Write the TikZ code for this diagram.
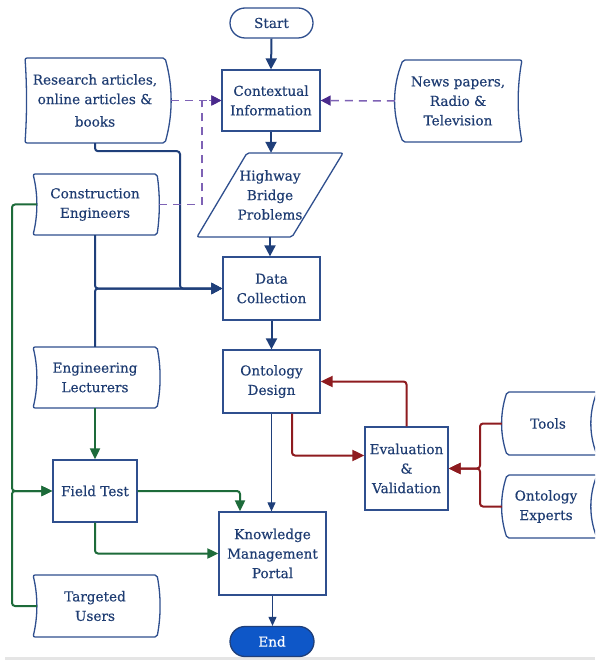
\documentclass[tikz,border=0pt]{standalone}
\usepackage{fontspec}
\setmainfont{DejaVu Serif}[FakeBold=0.35]
\usetikzlibrary{arrows.meta,calc}
\definecolor{navy}{HTML}{1F3F7A}
\definecolor{txt}{HTML}{1E3C72}
\definecolor{brd}{HTML}{2F4F8E}
\definecolor{pur}{HTML}{7E62B5}
\definecolor{purd}{HTML}{4A2A8C}
\definecolor{grn}{HTML}{1D6B3A}
\definecolor{dred}{HTML}{8E1B1F}
\definecolor{endb}{HTML}{0E57C8}
\tikzset{
  lbl/.style={font=\fontsize{13.6}{19.5}\selectfont, text=txt, align=center},
  boxn/.style={lbl, draw=brd, line width=1.3pt, inner sep=0pt},
  shp/.style={draw=brd, line width=1.3pt, rounded corners=2pt},
  blk/.style={draw=navy, line width=2pt, rounded corners=3pt, -{Triangle[width=11pt,length=11pt]}},
  blt/.style={draw=navy, line width=1.1pt, -{Triangle[width=8pt,length=9pt]}},
  grc/.style={draw=grn, line width=2pt, rounded corners=3pt, -{Triangle[width=10pt,length=11pt]}},
  rdc/.style={draw=dred, line width=2pt, rounded corners=3pt, -{Triangle[width=11pt,length=12pt]}},
  pdc/.style={draw=pur, line width=1.5pt, dash pattern=on 8pt off 6pt, -{Triangle[width=10pt,length=10pt,color=purd]}},
}
% #1 name, #2 xl, #3 yt, #4 xr, #5 yb, #6 ampL, #7 ampR, #8 text x-offset, #9 text
\newcommand\wavy[9]{%
  \coordinate (#1-a) at (#2,#3);
  \coordinate (#1-b) at (#4,#5);
  \node[lbl, inner sep=0pt, minimum width={#4-#2+2*(#8)}, minimum height={#5-#3}]
     (#1) at ({(#2+#4)/2+(#8)},{(#3+#5)/2}) {#9};
  \pgfmathsetmacro\hh{(#5-#3)/3}
  \draw[shp] (#2,#5) .. controls +(#6,-\hh) and +(#6,\hh) .. (#1-a) -- (#4,#3)
     .. controls +(#7,\hh) and +(#7,-\hh) .. (#1-b) -- cycle;
}
\begin{document}
\begin{tikzpicture}[x=1pt,y=-1pt]
\clip (0,0) rectangle (595,660);
\fill[white] (0,0) rectangle (595,660);
\draw[gray!20, line width=3pt] (5,658.5) -- (595,658.5);

% process boxes
\node[boxn, rounded corners=15pt, minimum width=83pt, minimum height=30pt] (start) at (271.5,23) {Start};
\node[boxn, minimum width=98pt, minimum height=61pt] (ctx) at (271,100.5) {Contextual\\Information};
\node[lbl, inner sep=0pt, minimum width=146pt, minimum height=84pt] (hw) at (270,195) {Highway\\Bridge\\Problems};
\draw[shp] (247,153) -- (343,153) -- (292,237) -- (197,237) -- cycle;
\node[boxn, minimum width=97pt, minimum height=63pt] (dc) at (271.5,288.5) {Data\\Collection};
\node[boxn, minimum width=97pt, minimum height=63pt] (od) at (271.5,381.5) {Ontology\\Design};
\node[boxn, minimum width=83pt, minimum height=83pt] (ev) at (406.5,468.5) {Evaluation\\\&\\Validation};
\node[boxn, minimum width=84pt, minimum height=62pt] (ft) at (95,491) {Field Test};
\node[boxn, minimum width=107pt, minimum height=83pt] (kmp) at (272.5,553.5) {Knowledge\\Management\\Portal};
\node[boxn, fill=endb, draw=navy, text=white, rounded corners=15pt, minimum width=84pt, minimum height=30pt] (end) at (272,641.5) {End};

% data store shapes
\wavy{res}{25}{58}{165}{143}{2}{8}{0}{Research articles,\\online articles \&\\[3pt]books}
\wavy{ce}{33}{174}{157}{235}{5}{3}{0}{Construction\\Engineers}
\wavy{el}{33}{347}{157}{408}{5}{4}{0}{Engineering\\Lecturers}
\wavy{tu}{33}{575}{157}{637}{5}{4}{0}{Targeted\\Users}
\wavy{news}{403}{60}{522}{142}{-11}{-5}{-4.5}{News papers,\\Radio \&\\Television}
\wavy{tools}{507}{392}{597}{455}{-7}{-8}{-4}{Tools}
\wavy{oe}{507}{475}{597}{538}{-7}{-8}{-6}{Ontology\\Experts}

% helper x positions
\coordinate (jx) at (180,0);
\coordinate (gx) at (12,0);
\coordinate (kx) at (240,0);
\coordinate (rx) at (292,0);
\coordinate (rx2) at (480,0);
\coordinate (px) at (202,0);

% blue flow
\draw[blk] (start.south) -- (ctx.north);
\draw[blk] (ctx.south) -- (ctx.south |- hw.north);
\draw[blk] (hw.south) -- (hw.south |- dc.north);
\draw[blk] (dc.south) -- (od.north);
\draw[blk] (res.south) -- ++(0,8) -| (dc.west -| jx) -- (dc.west);
\draw[blk] (ce.south) |- (dc.west);
\draw[blk] (el.north) |- (dc.west);
\draw[blt] (od.south) -- (od.south |- kmp.north);
\draw[blt] (kmp.south) -- (kmp.south |- end.north);

% purple dashed
\draw[pdc] ([xshift=6pt]res.east) -- (ctx.west);
\draw[pdc] ([xshift=2pt]ce.east) -| (ctx.west -| px) -- (ctx.west);
\draw[pdc] ([xshift=-8pt]news.west) -- (ctx.east);

% green
\draw[grc] ([xshift=4pt]ce.west) -- (ce.west -| gx) -- (ft.west -| gx) -- (ft.west);
\draw[grc] ([xshift=4pt]tu.west) -- (tu.west -| gx) -- (ft.west -| gx) -- (ft.west);
\draw[grc] (el.south) -- (ft.north);
\draw[grc] (ft.east) -| (kmp.north -| kx);
\draw[grc] (ft.south) |- (kmp.west);

% red
\draw[rdc] (od.south -| rx) |- ([yshift=13pt]ev.west);
\draw[rdc] (ev.north) |- (od.east);
\draw[rdc] ([xshift=-5pt]tools.west) -- (tools.west -| rx2) |- (ev.east);
\draw[rdc] ([xshift=-5pt]oe.west) -- (oe.west -| rx2) |- (ev.east);
\end{tikzpicture}
\end{document}
